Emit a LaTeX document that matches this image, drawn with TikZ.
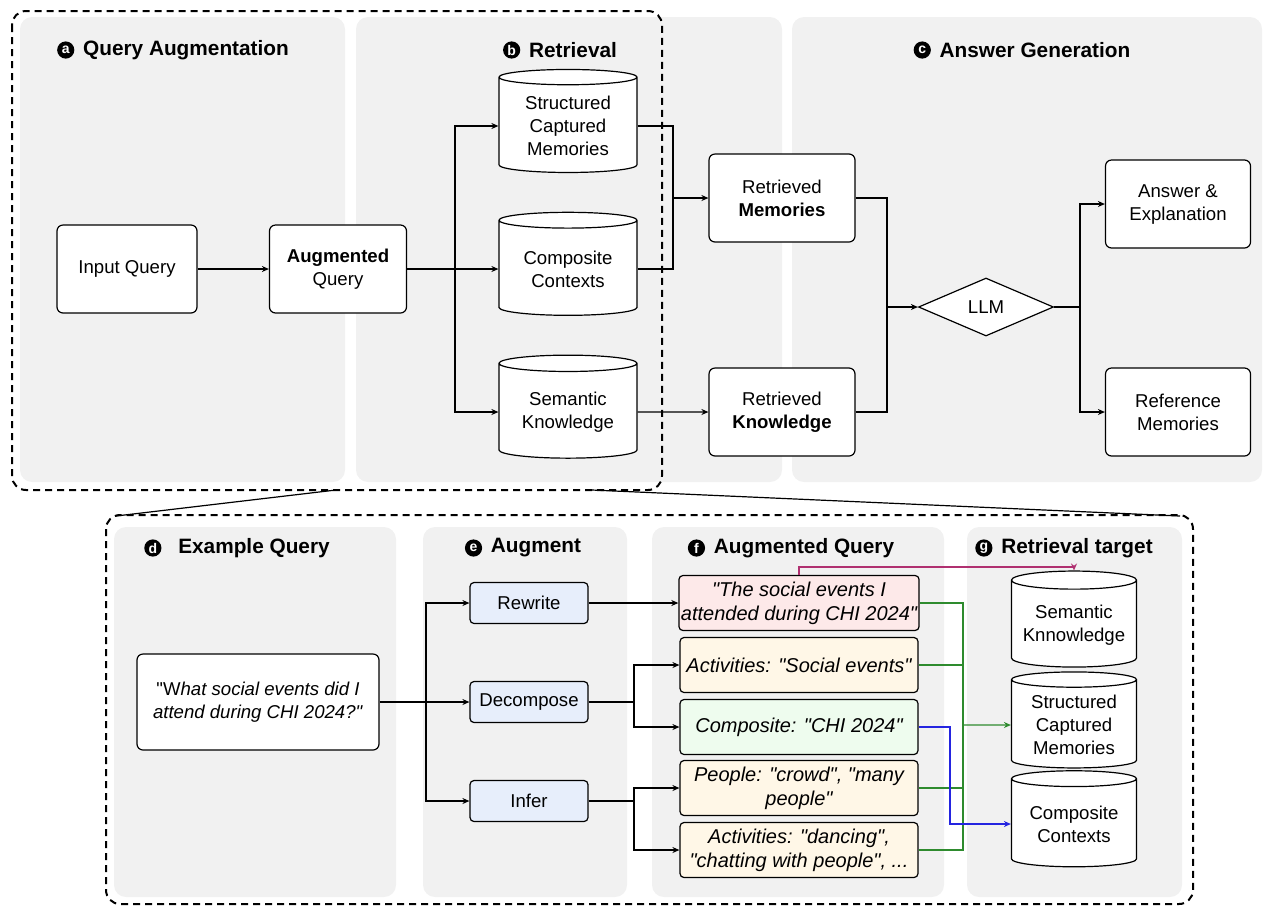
\documentclass[tikz,border=0pt]{standalone}
\usepackage{fontspec}
\setmainfont[Ligatures=TeXOff]{Liberation Sans}
\usetikzlibrary{arrows.meta,positioning,shapes.geometric}

\definecolor{panelgray}{HTML}{F1F1F1}
\definecolor{augblue}{HTML}{E7EEFB}
\definecolor{rewritered}{HTML}{FDE9E9}
\definecolor{inferyellow}{HTML}{FFF7E7}
\definecolor{compgreen}{HTML}{EEFCEE}
\definecolor{linkred}{HTML}{B03070}
\definecolor{linkgreen}{HTML}{2E8B2E}
\definecolor{linkblue}{HTML}{2424E0}

\tikzset{
    panel/.style={fill=panelgray, rounded corners=6pt},
    dashframe/.style={draw, line width=1pt, dash pattern=on 3.5pt off 2.5pt, rounded corners=7pt},
    qbox/.style={draw, fill=white, rounded corners=3pt, line width=0.6pt, align=center,
        minimum width=70pt, minimum height=44pt, inner sep=2pt},
    store/.style={cylinder, shape border rotate=90, draw, fill=white, line width=0.6pt,
        aspect=0.17, minimum width=69pt, minimum height=51.5pt, align=center, inner sep=1pt},
    augbox/.style={draw, fill=augblue, rounded corners=2pt, line width=0.6pt,
        minimum width=59pt, minimum height=20.5pt, inner sep=1pt},
    outbox/.style={draw, rounded corners=2pt, line width=0.6pt, align=center, font=\itshape,
        minimum width=119pt, minimum height=27.5pt, inner sep=1pt},
    hdr/.style={font=\bfseries\fontsize{10.4}{12}\selectfont, inner sep=0pt},
    lettermark/.style={circle, fill=black, text=white, inner sep=0pt, minimum size=8.6pt,
        font=\bfseries\fontsize{7}{7}\selectfont},
    line/.style={line width=0.6pt},
    arr/.style={line width=0.6pt, -{Stealth[length=3.5pt,width=3pt]}},
}

\begin{document}
\begin{tikzpicture}[x=0.5pt, y=-0.5pt, font=\fontsize{9.3}{11.5}\selectfont]
        \useasboundingbox (0,0) rectangle (1263,907);
        % Draw panels
        \foreach \xa/\xb in {20/345, 356/782, 792/1262} {
            \fill [panel] (\xa,17) rectangle (\xb,482);
        }
        \foreach \xa/\xb in {114/396, 423/627, 652/944, 967/1182} {
            \fill [panel] (\xa,527) rectangle (\xb,897);
        }
        % Dashed frames
        \draw [dashframe] (12,11) rectangle (662,490);
        \draw [dashframe] (106,515) rectangle (1193,904);
        \coordinate (t1) at (336,490);
        \coordinate (b1) at (116,516);
        \coordinate (t2) at (592,490);
        \coordinate (b2) at (1180,516);
        \draw [line] (t1) -- (b1);
        \draw [line] (t2) -- (b2);
        % Headers
        \node [hdr] (ha) at (186,50) {Query Augmentation};
        \node [lettermark, left=4pt of ha] (ma) {a};
        \node [hdr] (hb) at (573,50) {Retrieval};
        \node [lettermark, left=4pt of hb] (mb) {b};
        \node [hdr] (hc) at (1035,50) {Answer Generation};
        \node [lettermark, left=4pt of hc] (mc) {c};
        \node [hdr] (hd) at (254,548) {Example Query};
        \node [lettermark, left=8pt of hd] (md) {d};
        \node [hdr] (he) at (536,548) {Augment};
        \node [lettermark, left=4pt of he] (me) {e};
        \node [hdr] (hf) at (804,548) {Augmented Query};
        \node [lettermark, left=4pt of hf] (mf) {f};
        \node [hdr] (hg) at (1077,548) {Retrieval target};
        \node [lettermark, left=4pt of hg] (mg) {g};
        % Top row nodes
        \node [qbox] (in) at (127,269) {Input Query};
        \node [qbox, minimum width=68.5pt] (aug) at (338,269) {\textbf{Augmented}\\Query};
        \node [store] (scm) at (568,126) {Structured\\Captured\\Memories};
        \node [store] (cc) at (568,269) {Composite\\Contexts};
        \node [store] (sk) at (568,412) {Semantic\\Knowledge};
        \node [qbox, minimum width=73pt] (rm) at (782,198) {Retrieved\\\textbf{Memories}};
        \node [qbox, minimum width=73pt] (rk) at (782,412) {Retrieved\\\textbf{Knowledge}};
        \node [diamond, draw, fill=white, line width=0.6pt, inner sep=0pt,
            minimum width=67.5pt, minimum height=29pt] (llm) at (986,307) {LLM};
        \node [qbox, minimum width=72.5pt] (ans) at (1178,204) {Answer \&\\Explanation};
        \node [qbox, minimum width=72.5pt] (ref) at (1178,412) {Reference\\Memories};
        % Top row links
        \coordinate (ja) at (455,269);
        \coordinate (jm) at (673,198);
        \coordinate (jl) at (887,307);
        \coordinate (jr) at (1080,307);
        \draw [arr] (in) -- (aug);
        \draw [line] (aug.east) -- (ja);
        \foreach \t in {scm,cc,sk} {
            \draw [arr] (ja) |- (\t.west);
        }
        \draw [line] (scm.east) -| (jm);
        \draw [line] (cc.east) -| (jm);
        \draw [arr] (jm) -- (rm.west);
        \draw [arr] (sk.east) -- (rk.west);
        \draw [line] (rm.east) -| (jl);
        \draw [line] (rk.east) -| (jl);
        \draw [arr] (jl) -- (llm.west);
        \draw [line] (llm.east) -- (jr);
        \draw [arr] (jr) |- (ans.west);
        \draw [arr] (jr) |- (ref.west);
        % Bottom row nodes
        \node [qbox, minimum width=121pt, minimum height=48pt] (ex) at (258,702)
            {"W\textit{hat social events did I}\\\textit{attend during CHI 2024?"}};
        \node [augbox] (rw) at (529,603) {Rewrite};
        \node [augbox] (dc) at (529,702) {Decompose};
        \node [augbox] (inf) at (529,801) {Infer};
        \node [outbox, fill=rewritered] (q1) at (799,603) {"The social events I\\attended during CHI 2024"};
        \node [outbox, fill=inferyellow] (q2) at (799,665) {Activities: "Social events"};
        \node [outbox, fill=compgreen] (q3) at (799,727) {Composite: "CHI 2024"};
        \node [outbox, fill=inferyellow] (q4) at (799,788) {People: "crowd", "many\\people"};
        \node [outbox, fill=inferyellow] (q5) at (799,850) {Activities: "dancing",\\"chatting with people", ...};
        \node [store, minimum width=62.5pt, minimum height=48pt] (gsk) at (1074,625) {Semantic\\Knnowledge};
        \node [store, minimum width=62.5pt, minimum height=48pt] (gscm) at (1074,725) {Structured\\Captured\\Memories};
        \node [store, minimum width=62.5pt, minimum height=48pt] (gcc) at (1074,824) {Composite\\Contexts};
        % Bottom row links
        \coordinate (je) at (426,702);
        \coordinate (jd) at (634,702);
        \coordinate (ji) at (634,801);
        \draw [line] (ex.east) -- (je);
        \foreach \t in {rw,dc,inf} {
            \draw [arr] (je) |- (\t.west);
        }
        \draw [arr] (rw.east) -- (q1.west);
        \draw [line] (dc.east) -- (jd);
        \draw [arr] (jd) |- (q2.west);
        \draw [arr] (jd) |- (q3.west);
        \draw [line] (inf.east) -- (ji);
        \draw [arr] (ji) |- (q4.west);
        \draw [arr] (ji) |- (q5.west);
        % Retrieval targets
        \coordinate (jg) at (963,725);
        \coordinate (jb) at (950,727);
        \draw [arr, linkred] (q1.north) -- ++(0,-8) -| (gsk.north);
        \foreach \q in {q1,q2,q4,q5} {
            \draw [line, linkgreen] (\q.east) -| (jg);
        }
        \draw [arr, linkgreen] (jg) -- (gscm.west);
        \draw [arr, linkblue] (q3.east) -- (jb) |- (gcc.west);
\end{tikzpicture}
\end{document}
